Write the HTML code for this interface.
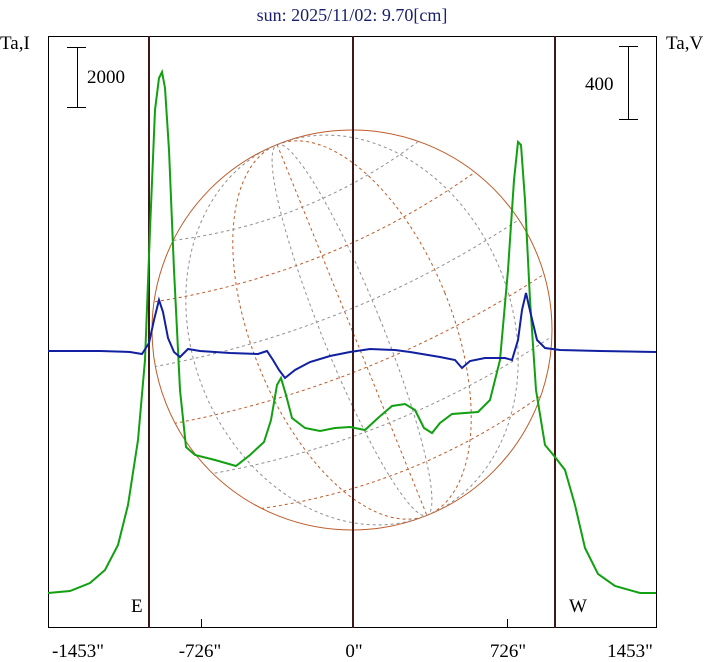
<!DOCTYPE html>
<html><head><meta charset="utf-8"><style>
html,body{margin:0;padding:0;background:#fff}
svg{display:block}
text{font-family:"Liberation Serif",serif}
</style></head><body>
<svg width="708" height="662" viewBox="0 0 708 662" xmlns="http://www.w3.org/2000/svg">
<rect width="708" height="662" fill="#fff"/>
<text x="352" y="21" font-size="18" fill="#1a2070" text-anchor="middle">sun: 2025/11/02: 9.70[cm]</text>
<text x="0" y="49" font-size="19" fill="#000">Ta,I</text>
<text x="666" y="49" font-size="19" fill="#000">Ta,V</text>
<!-- sun disk -->
<g fill="none" stroke-width="1">
<circle cx="352" cy="330" r="200" stroke="#c05a28"/>
<g transform="rotate(-22 352 330)" stroke-dasharray="3,3">
<clipPath id="c"><circle cx="352" cy="330" r="200"/></clipPath>
<g clip-path="url(#c)">
<ellipse cx="352" cy="330" rx="30" ry="200" stroke="#909090"/>
<ellipse cx="352" cy="330" rx="100" ry="200" stroke="#c05a28"/>
<ellipse cx="352" cy="330" rx="160" ry="200" stroke="#909090"/>
<line x1="352" y1="130" x2="352" y2="530" stroke="#c05a28"/>
<path d="M180 230 Q352 270 524 230" stroke="#c05a28"/>
<path d="M155 290 Q352 330 549 290" stroke="#909090"/>
<path d="M152 350 Q352 390 552 350" stroke="#c05a28"/>
<path d="M165 410 Q352 450 539 410" stroke="#909090"/>
<path d="M195 460 Q352 500 509 460" stroke="#c05a28"/>
<path d="M220 180 Q352 215 484 180" stroke="#909090"/>
</g></g></g>
<!-- frame -->
<rect x="48.5" y="36.5" width="608" height="591" fill="none" stroke="#000" stroke-width="1"/>
<g stroke="#401818" stroke-width="2">
<line x1="149" y1="36" x2="149" y2="628"/>
<line x1="353" y1="36" x2="353" y2="628"/>
<line x1="555" y1="36" x2="555" y2="628"/>
</g>
<g stroke="#000" stroke-width="1">
<line x1="201.5" y1="619" x2="201.5" y2="628"/>
<line x1="507.5" y1="619" x2="507.5" y2="628"/>
<line x1="77.5" y1="47" x2="77.5" y2="107"/><line x1="67" y1="47.5" x2="86" y2="47.5"/><line x1="67" y1="107.5" x2="86" y2="107.5"/>
<line x1="628.5" y1="46" x2="628.5" y2="119"/><line x1="619" y1="46.5" x2="638" y2="46.5"/><line x1="619" y1="119.5" x2="638" y2="119.5"/>
</g>
<text x="87" y="83" font-size="19">2000</text>
<text x="585" y="90" font-size="19">400</text>
<text x="131" y="612" font-size="19">E</text>
<text x="569" y="612" font-size="19">W</text>
<g font-size="19" text-anchor="middle">
<text x="78" y="657">-1453"</text>
<text x="200" y="657">-726"</text>
<text x="354" y="657">0"</text>
<text x="508" y="657">726"</text>
<text x="630" y="657">1453"</text>
</g>
<!-- curves -->
<polyline fill="none" stroke="#10a010" stroke-width="2" points="48,593 70,591 90,583 105,570 118,545 128,505 138,440 145,360 150,230 155,110 159,78 162,72 165,88 169,150 174,270 180,390 186,447 195,455 215,460 236,466 250,455 264,442 271,420 277,385 281,378 286,395 292,418 305,428 320,431 335,428 350,427 365,430 378,418 392,406 405,404 415,410 424,428 432,433 440,423 452,414 478,412 490,400 500,360 508,270 514,180 518,142 521,145 525,200 530,300 536,390 545,445 555,457 565,470 575,505 585,548 598,574 615,586 640,593 656,593"/>
<polyline fill="none" stroke="#1020a0" stroke-width="2" points="48,351 100,351 130,352 142,354 149,343 154,320 159,300 163,312 168,338 174,352 180,357 188,349 200,351 230,353 258,354 267,351 273,360 279,370 285,378 295,370 310,362 330,356 350,352 370,349 395,350 410,352 440,357 455,360 462,368 470,361 485,358 505,358 512,360 518,340 522,310 526,293 531,315 537,340 545,348 560,350 600,351 656,352"/>
</svg>
</body></html>
